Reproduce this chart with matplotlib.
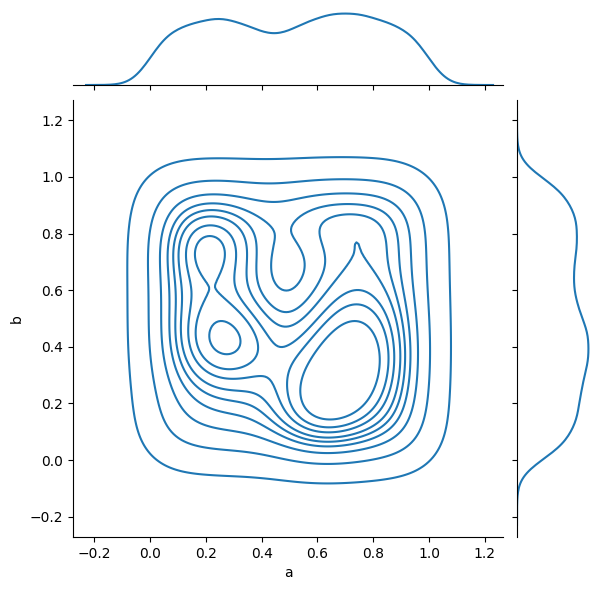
import matplotlib.pyplot as plt
import numpy as np
import pandas as pd
import seaborn as sns

# cell centres of a coarse density table
a_centres = [0.05, 0.15, 0.25, 0.35, 0.45, 0.55, 0.65, 0.75, 0.85, 0.95]
b_centres = [0.95, 0.85, 0.75, 0.65, 0.55, 0.45, 0.35, 0.25, 0.15, 0.05]

# relative sample density per cell, rows run from top (b=0.95) to bottom (b=0.05)
density = [
    [0.78, 0.85, 0.88, 0.85, 0.80, 0.88, 0.92, 0.92, 0.88, 0.78],
    [0.95, 1.15, 1.25, 0.98, 0.78, 1.20, 1.22, 1.22, 1.18, 0.90],
    [1.05, 1.65, 1.70, 1.05, 0.66, 0.68, 1.00, 1.00, 1.00, 0.95],
    [1.05, 1.20, 1.15, 1.00, 0.66, 0.76, 1.05, 1.05, 1.00, 0.95],
    [1.05, 1.15, 1.15, 1.05, 0.66, 0.84, 1.15, 1.35, 1.10, 1.00],
    [1.05, 1.25, 1.75, 1.70, 0.84, 1.05, 1.40, 1.55, 1.30, 1.00],
    [1.00, 1.20, 1.55, 1.35, 0.90, 1.25, 1.60, 1.65, 1.35, 1.00],
    [0.90, 0.85, 1.00, 0.90, 1.00, 1.45, 1.55, 1.50, 1.25, 0.95],
    [0.80, 0.75, 0.95, 0.80, 0.95, 1.65, 1.65, 1.40, 1.05, 0.90],
    [0.72, 0.70, 0.78, 0.78, 0.85, 1.15, 1.15, 1.00, 0.90, 0.78],
]

cells = []
for i, bv in enumerate(b_centres):
    for j, av in enumerate(a_centres):
        cells.append((av, bv, density[i][j]))
df = pd.DataFrame(cells, columns=["a", "b", "w"])

g = sns.JointGrid(data=df, x="a", y="b", height=6)
g.plot_joint(sns.kdeplot, weights=df["w"], bw_method=0.355, color="#1f77b4")
g.plot_marginals(sns.kdeplot, weights=df["w"], bw_method=0.225, cut=4.3, color="#1f77b4")

fig = g.figure
fig.set_size_inches(6.01, 5.90)
g.ax_joint.set_position([73 / 601, 53 / 590, 430 / 601, 437 / 590])
g.ax_marg_x.set_position([73 / 601, 505 / 590, 430 / 601, 75 / 590])
g.ax_marg_y.set_position([517 / 601, 53 / 590, 75 / 601, 437 / 590])

ticks = [-0.2, 0.0, 0.2, 0.4, 0.6, 0.8, 1.0, 1.2]
g.ax_joint.set_xticks(ticks)
g.ax_joint.set_yticks(ticks)
g.ax_joint.set_xlim(-0.276, 1.265)
g.ax_joint.set_ylim(-0.272, 1.272)
g.ax_joint.set_xlabel("a")
g.ax_joint.set_ylabel("b")

fig.savefig("out.png", dpi=100)
